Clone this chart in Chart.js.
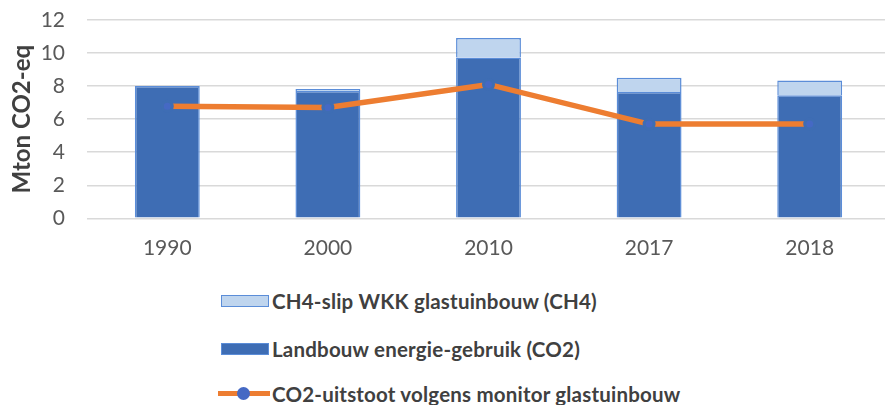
<!DOCTYPE html>
<html>
<head>
<meta charset="utf-8">
<script src="https://cdn.jsdelivr.net/npm/chart.js@4/dist/chart.umd.min.js"></script>
<style>
  body { margin: 0; background: #fff; overflow: hidden; width: 885px; height: 405px; position: relative; }
  #wrap { position: absolute; left: 0; top: 0; width: 891px; height: 265px; }
  #legend { position: absolute; left: 0; top: 0; font-family: Lato, sans-serif; font-weight: bold; font-size: 20.5px; color: #404040; }
  .item { position: absolute; left: 218px; height: 24px; white-space: nowrap; }
  .item span.txt { position: absolute; left: 54px; top: 0; line-height: 24px; letter-spacing: 0.2px; }
  .sw { position: absolute; left: 3px; top: 6px; width: 46px; height: 10px; }
</style>
</head>
<body>
<div id="wrap"><canvas id="chart" width="891" height="265"></canvas></div>
<div id="legend"></div>
<script>
// values
const years = ['1990', '2000', '2010', '2017', '2018'];
const landbouwCO2 = [8.0, 7.71, 9.73, 7.65, 7.45];
const ch4Slip = [0, 0.12, 1.18, 0.85, 0.89];
const monitorCO2 = [6.78, 6.71, 8.10, 5.70, 5.70];

const seriesNames = [
  'CH4-slip WKK glastuinbouw (CH4)',
  'Landbouw energie-gebruik (CO2)',
  'CO2-uitstoot volgens monitor glastuinbouw'
];

const darkBlue = '#3e6db4';
const lightBlue = '#bfd5ee';
const barEdge = '#5b8dd8';
const orange = '#ed7d31';

const ctx = document.getElementById('chart');

let myChart = new Chart(ctx, {
  type: 'bar',
  data: {
    labels: years,
    datasets: [
      {
        type: 'line',
        label: seriesNames[2],
        data: monitorCO2,
        borderColor: orange,
        borderWidth: 5.5,
        pointRadius: 5,
        pointBackgroundColor: '#4569c4',
        pointBorderColor: darkBlue,
        pointBorderWidth: 3,
        tension: 0,
        order: 0
      },
      {
        label: seriesNames[1],
        data: landbouwCO2,
        backgroundColor: darkBlue,
        borderColor: barEdge,
        borderWidth: 1.5,
        barPercentage: 0.404,
        categoryPercentage: 1,
        order: 1
      },
      {
        label: seriesNames[0],
        data: ch4Slip,
        backgroundColor: lightBlue,
        borderColor: barEdge,
        borderWidth: 1.5,
        barPercentage: 0.404,
        categoryPercentage: 1,
        order: 2
      }
    ]
  },
  options: {
    responsive: false,
    animation: false,
    layout: { autoPadding: false, padding: { top: 20, right: 1, left: 0, bottom: 0 } },
    plugins: {
      legend: { display: false },
      tooltip: { enabled: false }
    },
    scales: {
      x: {
        stacked: true,
        grid: { display: false, drawTicks: false },
        border: { display: false },
        ticks: {
          color: '#595959',
          font: { family: 'Lato', size: 21 },
          padding: 17
        },
        afterFit: (scale) => { scale.height = 46.7; }
      },
      y: {
        stacked: true,
        min: 0,
        max: 12,
        grid: { color: '#d9d9d9', lineWidth: 1.5, drawTicks: false },
        border: { display: false },
        ticks: {
          stepSize: 2,
          color: '#595959',
          font: { family: 'Lato', size: 21 },
          padding: 22
        },
        title: {
          display: true,
          text: 'Mton CO2-eq',
          color: '#404040',
          font: { family: 'Lato', size: 24, weight: 'bold' },
          padding: { top: 8, bottom: 0 }
        },
        afterFit: (scale) => {
          scale.width = 87;
          // tick padding would otherwise push the plot down
          scale.paddingTop = 0;
          scale.paddingBottom = 0;
        }
      }
    }
  }
});

// legend stacked vertically below the plot, as in the original
const legend = document.getElementById('legend');
const rowTops = [289, 337, 382];
const legendOrder = [2, 1, 0];
legendOrder.forEach((dsIndex, i) => {
  const ds = myChart.data.datasets[dsIndex];
  const item = document.createElement('div');
  item.className = 'item';
  item.style.top = rowTops[i] + 'px';
  if (ds.type === 'line') {
    item.innerHTML =
      '<div style="position:absolute;left:0;top:9px;width:52px;height:5px;background:' + ds.borderColor + '"></div>' +
      '<div style="position:absolute;left:19px;top:5px;width:13px;height:13px;border-radius:50%;background:' + ds.pointBackgroundColor + '"></div>';
  } else {
    item.innerHTML = '<div class="sw" style="background:' + ds.backgroundColor + ';border:1.5px solid ' + ds.borderColor + '"></div>';
  }
  const txt = document.createElement('span');
  txt.className = 'txt';
  txt.textContent = ds.label;
  item.appendChild(txt);
  legend.appendChild(item);
});
</script>
</body>
</html>
